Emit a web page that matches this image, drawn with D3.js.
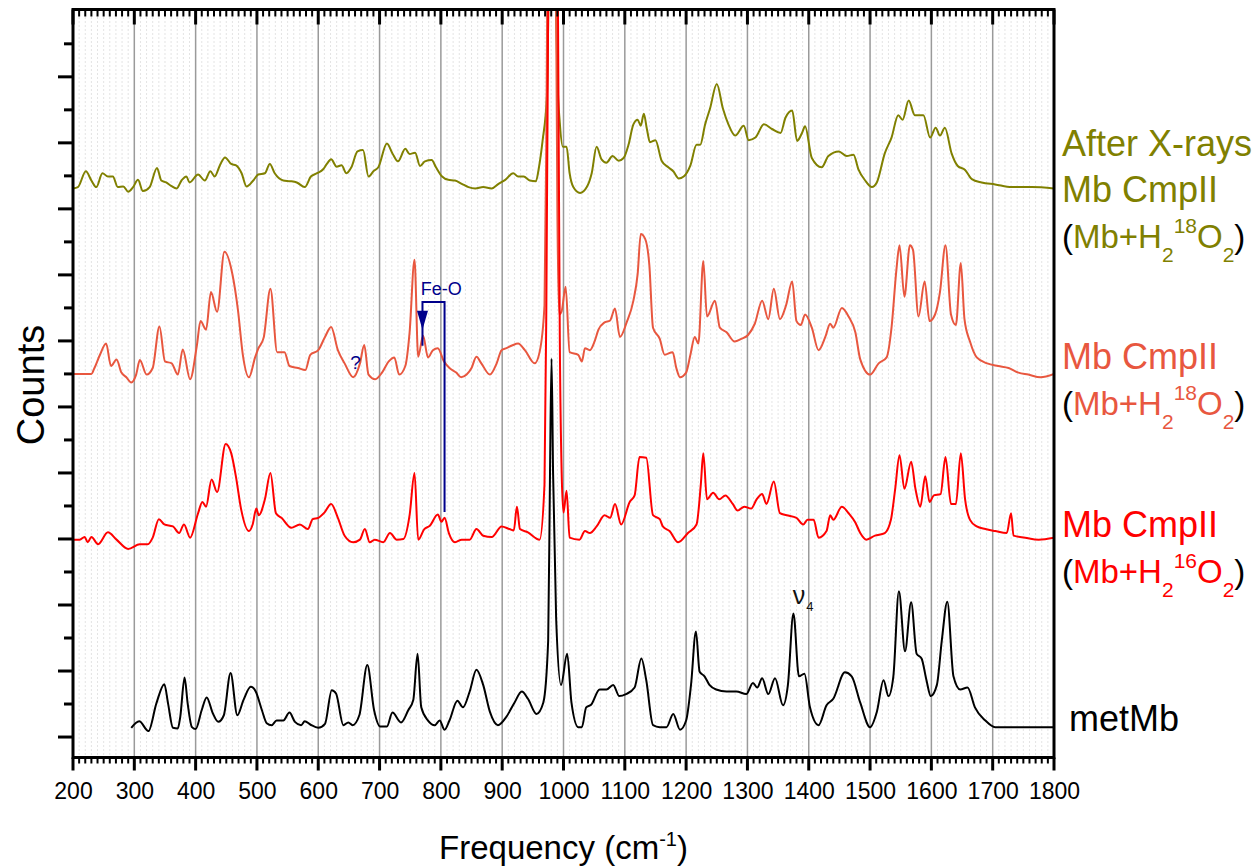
<!DOCTYPE html>
<html><head><meta charset="utf-8">
<script src="https://cdn.jsdelivr.net/npm/d3@7"></script>
<style>
body{margin:0;background:#fff}
svg{display:block}
text{font-family:"Liberation Sans",Arial,sans-serif}
</style>
</head><body>
<svg id="c" width="1257" height="867"></svg>
<script>
// ---------------- DATA (frequency cm-1, stacked counts in axis units) ----------------
const xTicks = [200,300,400,500,600,700,800,900,1000,1100,1200,1300,1400,1500,1600,1700,1800];

const metMb = [[295,0.14],[308,0.24],[323,0.09],[336,0.51],[349,0.80],[355,0.51],[363,0.14],[371,0.13],[375,0.31],[382,0.90],[387,0.51],[394,0.15],[400,0.12],[410,0.41],[418,0.60],[428,0.36],[437,0.23],[446,0.33],[457,0.97],[468,0.33],[478,0.56],[490,0.76],[498,0.69],[508,0.41],[516,0.21],[524,0.18],[532,0.25],[543,0.25],[553,0.37],[562,0.23],[572,0.18],[578,0.24],[587,0.19],[600,0.14],[611,0.20],[622,0.71],[629,0.66],[641,0.18],[649,0.22],[656,0.18],[667,0.33],[680,1.09],[691,0.41],[701,0.16],[712,0.16],[721,0.37],[735,0.22],[747,0.41],[755,0.56],[762,1.26],[768,0.45],[779,0.25],[790,0.18],[798,0.25],[806,0.11],[814,0.25],[827,0.55],[836,0.45],[847,0.69],[858,1.02],[869,0.79],[880,0.38],[893,0.18],[907,0.31],[920,0.52],[932,0.69],[942,0.58],[956,0.35],[967,0.52],[975,1.46],[978,4.0],[980.5,5.73],[983,4.0],[988,1.8],[996,0.79],[1006,1.26],[1013,0.52],[1024,0.15],[1030,0.15],[1037,0.45],[1045,0.49],[1059,0.72],[1070,0.72],[1081,0.79],[1091,0.62],[1102,0.65],[1116,0.75],[1127,1.19],[1135,0.86],[1146,0.18],[1157,0.15],[1168,0.15],[1179,0.35],[1190,0.11],[1200,0.25],[1208,0.79],[1216,1.60],[1222,0.99],[1230,0.92],[1238,0.79],[1249,0.72],[1266,0.69],[1282,0.69],[1298,0.65],[1309,0.82],[1316,0.75],[1324,0.89],[1334,0.65],[1345,0.89],[1358,0.48],[1366,0.79],[1375,1.87],[1384,0.92],[1393,0.96],[1402,0.45],[1416,0.18],[1429,0.48],[1440,0.58],[1459,0.98],[1470,0.92],[1484,0.52],[1500,0.15],[1511,0.38],[1522,0.86],[1530,0.62],[1538,0.92],[1547,2.21],[1557,1.30],[1567,2.04],[1576,1.26],[1584,1.19],[1592,0.86],[1599,0.62],[1609,0.79],[1617,1.46],[1626,2.05],[1636,0.92],[1647,0.72],[1659,0.75],[1671,0.45],[1688,0.25],[1704,0.15],[1742,0.15],[1800,0.15]];

const cmp16 = [[200,2.99],[211,2.99],[219,3.03],[224,2.95],[230,3.03],[241,2.92],[257,3.10],[271,2.99],[290,2.85],[309,2.92],[322,2.92],[330,3.02],[340,3.30],[349,3.22],[363,3.19],[373,3.09],[381,3.22],[391,3.02],[404,3.39],[411,3.56],[417,3.49],[426,3.90],[435,3.71],[449,4.44],[458,4.30],[466,3.93],[474,3.46],[487,3.12],[493,3.22],[499,3.46],[503,3.36],[513,3.60],[522,4.0],[531,3.39],[540,3.32],[556,3.17],[570,3.22],[583,3.15],[591,3.30],[600,3.32],[610,3.40],[621,3.53],[632,3.32],[643,3.05],[657,2.95],[668,2.99],[676,3.15],[684,2.95],[692,2.99],[706,2.95],[717,3.09],[728,2.99],[739,3.00],[749,3.36],[757,4.0],[763,2.99],[773,3.15],[782,3.2],[795,3.37],[801,3.26],[806,3.32],[813,3.09],[823,2.95],[834,2.99],[847,2.99],[858,3.15],[869,3.05],[883,3.03],[899,3.19],[912,3.15],[919,3.13],[924,3.49],[929,3.15],[942,3.10],[961,2.99],[969,3.83],[972,6.5],[975,11],[977,14],[988,14],[991,11],[994,6],[997,4.0],[1000,3.4],[1005,3.73],[1010,3.02],[1026,2.99],[1035,3.12],[1043,3.09],[1054,3.19],[1067,3.36],[1076,3.32],[1084,3.53],[1094,3.22],[1108,3.56],[1116,3.66],[1124,4.24],[1135,4.23],[1146,3.36],[1157,3.30],[1162,3.19],[1173,3.12],[1187,2.95],[1203,3.09],[1217,3.22],[1224,3.83],[1228,4.30],[1234,3.60],[1244,3.70],[1254,3.60],[1264,3.66],[1276,3.53],[1284,3.43],[1295,3.49],[1306,3.46],[1315,3.60],[1324,3.68],[1331,3.53],[1343,3.87],[1353,3.39],[1364,3.36],[1380,3.32],[1391,3.22],[1398,3.29],[1408,3.29],[1416,3.02],[1429,3.12],[1435,3.36],[1440,3.29],[1454,3.49],[1465,3.39],[1476,3.25],[1484,3.09],[1494,2.99],[1508,3.05],[1524,3.09],[1534,3.29],[1541,3.76],[1548,4.27],[1556,3.76],[1567,4.17],[1574,3.76],[1582,3.49],[1590,3.95],[1597,3.56],[1604,3.66],[1615,3.68],[1623,4.24],[1632,3.53],[1640,3.53],[1648,4.30],[1655,3.60],[1663,3.29],[1674,3.19],[1688,3.15],[1704,3.12],[1723,3.09],[1730,3.39],[1734,3.05],[1753,3.02],[1775,2.99],[1800,3.02]];

const cmp18 = [[200,5.50],[230,5.50],[235,5.59],[244,5.79],[254,5.96],[262,5.62],[271,5.72],[279,5.52],[287,5.45],[295,5.37],[303,5.49],[309,5.71],[320,5.49],[330,5.59],[341,6.22],[350,5.69],[361,5.66],[371,5.49],[379,5.87],[391,5.42],[402,5.93],[408,6.30],[417,6.17],[425,6.74],[435,6.44],[447,7.35],[460,7.01],[469,6.47],[477,5.79],[487,5.45],[497,5.75],[502,5.88],[511,6.05],[522,6.79],[533,5.83],[545,5.83],[553,5.62],[567,5.59],[579,5.56],[587,5.79],[600,5.86],[611,6.06],[621,6.21],[632,5.86],[643,5.66],[657,5.45],[668,5.66],[675,5.94],[682,5.49],[693,5.42],[704,5.52],[715,5.69],[724,5.75],[732,5.49],[742,5.62],[749,6.13],[757,7.23],[763,5.76],[771,6.08],[779,5.75],[787,5.86],[795,5.89],[805,5.69],[814,5.59],[825,5.52],[833,5.45],[842,5.49],[850,5.59],[858,5.76],[866,5.66],[880,5.49],[891,5.66],[899,5.86],[907,5.89],[916,5.93],[926,5.96],[937,5.86],[953,5.66],[961,5.83],[969,6.54],[972,9],[974,12],[976,14],[985,14],[988,11],[990,8],[993,6.4],[997,6.45],[1003.5,6.82],[1010,5.83],[1024,5.79],[1030,5.69],[1035,5.89],[1043,5.86],[1051,6.0],[1057,6.17],[1067,6.28],[1076,6.31],[1084,6.49],[1092,6.06],[1103,6.28],[1114,6.61],[1121,7.02],[1126,7.62],[1133,7.55],[1140,7.15],[1146,6.20],[1157,6.03],[1165,5.79],[1178,5.83],[1184,5.59],[1190,5.45],[1200,5.52],[1207,5.79],[1214,6.06],[1220,5.96],[1228,7.21],[1234,6.37],[1247,6.61],[1255,6.20],[1266,6.13],[1279,5.99],[1290,6.03],[1301,6.09],[1312,6.26],[1324,6.61],[1334,6.33],[1343,6.79],[1353,6.33],[1363,6.54],[1373,6.90],[1380,6.30],[1387,6.24],[1394,6.40],[1405,6.20],[1416,5.86],[1427,6.06],[1435,6.26],[1440,6.20],[1454,6.50],[1465,6.37],[1476,6.13],[1484,5.72],[1500,5.49],[1514,5.66],[1527,5.75],[1535,6.20],[1543,7.08],[1548,7.45],[1556,6.67],[1565,7.45],[1570,7.38],[1579,6.37],[1589,6.90],[1597,6.30],[1606,6.40],[1614,6.74],[1623,7.45],[1632,6.40],[1640,6.24],[1648,7.18],[1654,6.33],[1663,5.99],[1674,5.75],[1691,5.66],[1709,5.62],[1726,5.59],[1742,5.52],[1758,5.49],[1778,5.45],[1800,5.50]];

const xray18 = [[200,8.31],[208,8.33],[221,8.57],[230,8.43],[238,8.33],[248,8.54],[257,8.49],[265,8.49],[273,8.33],[282,8.34],[290,8.26],[298,8.33],[306,8.44],[314,8.27],[325,8.33],[337,8.62],[344,8.43],[352,8.40],[360,8.35],[369,8.31],[377,8.43],[385,8.49],[390,8.40],[404,8.52],[415,8.43],[424,8.57],[431,8.49],[440,8.67],[448,8.78],[458,8.68],[466,8.66],[475,8.54],[483,8.34],[494,8.43],[502,8.52],[513,8.54],[521,8.68],[529,8.54],[543,8.43],[554,8.42],[565,8.40],[578,8.33],[588,8.49],[598,8.54],[608,8.60],[614,8.68],[621,8.75],[630,8.64],[638,8.66],[646,8.54],[654,8.63],[664,8.87],[673,8.89],[682,8.49],[690,8.57],[698,8.63],[712,8.99],[721,8.84],[730,8.72],[742,8.91],[749,8.83],[758,8.85],[766,8.65],[774,8.72],[785,8.74],[792,8.63],[802,8.49],[812,8.44],[823,8.43],[834,8.38],[845,8.33],[856,8.31],[869,8.33],[883,8.31],[894,8.38],[905,8.44],[918,8.54],[926,8.49],[935,8.49],[945,8.43],[955,8.42],[960,8.63],[966,9.04],[973,9.72],[976,11.5],[980,13],[986,12],[990,10],[994,9.3],[999,8.94],[1005,8.94],[1010,8.54],[1016,8.33],[1027,8.24],[1038,8.33],[1046,8.54],[1054,8.94],[1062,8.75],[1070,8.70],[1080,8.80],[1090,8.73],[1098,8.77],[1106,8.97],[1114,9.28],[1121,9.35],[1126,9.26],[1131,9.44],[1136,9.21],[1141,9.01],[1150,9.04],[1160,8.73],[1171,8.63],[1179,8.57],[1188,8.46],[1196,8.49],[1207,8.66],[1217,8.97],[1223,8.97],[1231,9.28],[1239,9.52],[1250,9.89],[1260,9.52],[1269,9.28],[1280,9.11],[1294,9.26],[1302,9.04],[1313,9.08],[1327,9.28],[1340,9.21],[1354,9.15],[1362,9.38],[1373,9.49],[1381,9.03],[1389,9.15],[1394,9.25],[1405,8.77],[1421,8.63],[1432,8.80],[1449,8.87],[1462,8.80],[1473,8.82],[1481,8.60],[1492,8.43],[1503,8.33],[1511,8.40],[1524,8.84],[1535,9.08],[1546,9.42],[1553,9.35],[1563,9.64],[1573,9.42],[1587,9.42],[1598,9.08],[1607,9.23],[1614,9.11],[1622,9.23],[1633,8.84],[1643,8.65],[1655,8.59],[1666,8.45],[1682,8.40],[1704,8.37],[1731,8.33],[1764,8.33],[1800,8.31]];

const seriesNames = ["After X-rays Mb CmpII","Mb CmpII (18O)","Mb CmpII (16O)","metMb"];
const seriesColors = ["#808000","#E8573F","#FF0000","#000000"];

// annotations (data units)
const feO = {arrowFreq:770, lineFreq:806, top:6.59, tip:6.17, bottom:3.41, label:"Fe-O", labelFreq:767, labelY:6.70};
const question = {freq:652, y:5.58, label:"?"};
const nu4 = {freq:1374, y:2.02, label:"\u03BD", sub:"4"};

// ---------------- CHART ----------------
const svg = d3.select("#c");
const L=73, R=1054, T=9.5, B=757.5;
const x = d3.scaleLinear().domain([200,1800]).range([L,R]);
const y = d3.scaleLinear().domain([-0.31,11.02]).range([B,T]);

svg.append("rect").attr("width",1257).attr("height",867).attr("fill","#fff");

// minor dotted grid
const minorX = d3.range(200,1801,10).filter(v=>v%100!==0);
svg.append("g").selectAll("line").data(minorX).join("line")
  .attr("x1",d=>x(d)).attr("x2",d=>x(d)).attr("y1",T).attr("y2",B)
  .attr("stroke","#c8c8c8").attr("stroke-width",1).attr("stroke-dasharray","1,3");
// major grid
svg.append("g").selectAll("line").data(xTicks.slice(1,-1)).join("line")
  .attr("x1",d=>x(d)).attr("x2",d=>x(d)).attr("y1",T).attr("y2",B)
  .attr("stroke","#9a9a9a").attr("stroke-width",1.5);

// clip
svg.append("clipPath").attr("id","clip").append("rect")
  .attr("x",L).attr("y",T).attr("width",R-L).attr("height",B-T);

const line = d3.line().x(d=>x(d[0])).y(d=>y(d[1])).curve(d3.curveMonotoneX);
const gS = svg.append("g").attr("clip-path","url(#clip)");
[xray18,cmp18,cmp16,metMb].forEach((s,i)=>{
  gS.append("path").datum(s).attr("d",line).attr("fill","none")
    .attr("stroke",seriesColors[i]).attr("stroke-width",2).attr("stroke-linejoin","round");
});

// Fe-O annotation
const navy="#00008B";
svg.append("path")
  .attr("d",`M${x(feO.lineFreq)},${y(feO.bottom)}V${y(feO.top)}H${x(feO.arrowFreq)}V${y(feO.tip)+16}`)
  .attr("fill","none").attr("stroke",navy).attr("stroke-width",2);
svg.append("path")
  .attr("d",`M${x(feO.arrowFreq)-5.5},${y(feO.tip)-19}L${x(feO.arrowFreq)+5.5},${y(feO.tip)-19}L${x(feO.arrowFreq)},${y(feO.tip)}Z`)
  .attr("fill",navy);
svg.append("text").attr("x",x(feO.labelFreq)).attr("y",y(feO.labelY))
  .attr("font-size",18).attr("fill",navy).text(feO.label);
svg.append("text").attr("x",x(question.freq)).attr("y",y(question.y))
  .attr("font-size",19).attr("fill",navy).text(question.label);
const nt = svg.append("text").attr("x",x(nu4.freq)).attr("y",y(nu4.y))
  .attr("font-family","'Liberation Serif','DejaVu Serif',serif").attr("font-size",25).attr("fill","#111");
nt.append("tspan").text(nu4.label);
nt.append("tspan").attr("font-size",13).attr("dy",7).attr("dx",1).text(nu4.sub);

// frame
svg.append("rect").attr("x",L).attr("y",T).attr("width",R-L).attr("height",B-T)
  .attr("fill","none").attr("stroke","#000").attr("stroke-width",3);

// bottom axis
const minorTicks = d3.range(200,1801,10);
const gB = svg.append("g");
gB.selectAll("line").data(minorTicks).join("line")
  .attr("x1",d=>x(d)).attr("x2",d=>x(d)).attr("y1",B)
  .attr("y2",d=>B+(d%100===0?13:6)).attr("stroke","#000").attr("stroke-width",d=>d%100===0?3:2);
const xAxis = d3.axisBottom(x).tickValues(xTicks).tickSize(0).tickPadding(25).tickFormat(d3.format("d"));
const gx = svg.append("g").attr("transform",`translate(0,${B})`).call(xAxis);
gx.select(".domain").remove();
gx.selectAll("text").attr("font-size",23).attr("fill","#000")
  .attr("font-family","'Liberation Sans',Arial,sans-serif");

// top axis (inward)
svg.append("g").selectAll("line").data(minorTicks).join("line")
  .attr("x1",d=>x(d)).attr("x2",d=>x(d)).attr("y1",T)
  .attr("y2",d=>T+(d%100===0?15:7)).attr("stroke","#000").attr("stroke-width",d=>d%100===0?3:2);

// left axis ticks (outward)
const yTicks = d3.range(0,10.6,0.5);
svg.append("g").selectAll("line").data(yTicks).join("line")
  .attr("x1",d=>L-(Number.isInteger(d)?15:9)).attr("x2",L)
  .attr("y1",d=>y(d)).attr("y2",d=>y(d)).attr("stroke","#000").attr("stroke-width",3);

// axis titles
const xt = svg.append("text").attr("x",(L+R)/2).attr("y",859).attr("text-anchor","middle")
  .attr("font-size",33).attr("fill","#000");
xt.append("tspan").text("Frequency (cm");
xt.append("tspan").attr("font-size",20).attr("dy",-13).text("-1");
xt.append("tspan").attr("dy",13).text(")");
svg.append("text").attr("transform","translate(44,385) rotate(-90)").attr("text-anchor","middle")
  .attr("font-size",38).attr("fill","#000").text("Counts");

// right-side labels
const LX = 1062;
function plain(txt, yb, color, xx){
  svg.append("text").attr("x",xx||LX).attr("y",yb).attr("font-size",36).attr("fill",color).text(txt);
}
function formula(yb, color, iso){
  const t = svg.append("text").attr("x",LX).attr("y",yb).attr("font-size",33).attr("fill",color);
  t.append("tspan").attr("fill","#000").text("(");
  t.append("tspan").text("Mb+H");
  t.append("tspan").attr("font-size",21).attr("dy",14).text("2");
  t.append("tspan").attr("font-size",21).attr("dy",-29).text(iso);
  t.append("tspan").attr("dy",15).text("O");
  t.append("tspan").attr("font-size",21).attr("dy",14).text("2");
  t.append("tspan").attr("fill","#000").attr("dy",-14).text(")");
}
const labelRows = [
  {kind:"plain", text:"After X-rays", y:156, c:0},
  {kind:"plain", text:"Mb CmpII", y:202, c:0},
  {kind:"formula", iso:"18", y:248, c:0},
  {kind:"plain", text:"Mb CmpII", y:369, c:1},
  {kind:"formula", iso:"18", y:415, c:1},
  {kind:"plain", text:"Mb CmpII", y:537, c:2},
  {kind:"formula", iso:"16", y:583, c:2},
];
labelRows.forEach(r=>{
  if(r.kind==="plain") plain(r.text, r.y, seriesColors[r.c]);
  else formula(r.y, seriesColors[r.c], r.iso);
});
plain("metMb", 731, "#000", 1069);
</script>
</body></html>
